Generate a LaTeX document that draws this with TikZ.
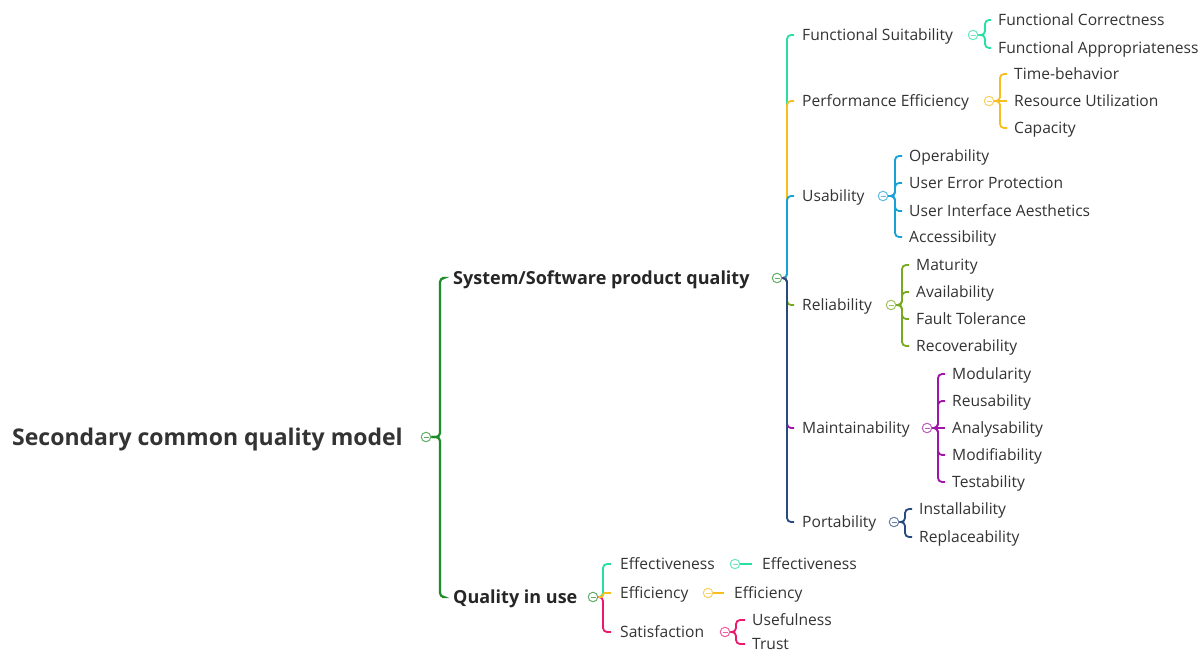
\documentclass[tikz,border=0pt]{standalone}
\usepackage{fontspec}
\setmainfont{Open Sans}
\usetikzlibrary{positioning,calc}

\definecolor{cRoot}{RGB}{30,140,40}
\definecolor{cTeal}{RGB}{40,225,160}
\definecolor{cGold}{RGB}{248,190,30}
\definecolor{cSky}{RGB}{25,160,215}
\definecolor{cOlive}{RGB}{120,170,30}
\definecolor{cPlum}{RGB}{160,20,170}
\definecolor{cNavy}{RGB}{40,75,125}
\definecolor{cRose}{RGB}{235,25,110}
\definecolor{cTxt}{RGB}{51,51,51}

\begin{document}
\begin{tikzpicture}[
    x=1pt, y=-1pt,
    % Node styles
    rootnode/.style={anchor=west, inner sep=0pt, text height=16pt, text depth=0pt, font=\fontsize{23}{28}\selectfont\bfseries, text=cTxt},
    topic/.style={anchor=west, inner sep=0pt, text height=12.5pt, text depth=0pt, font=\fontsize{18}{22}\selectfont\bfseries, text=black!85},
    item/.style={anchor=west, inner sep=0pt, text height=10.5pt, text depth=0pt, font=\fontsize{15.6}{18}\selectfont, text=cTxt},
    fold/.style={circle, draw=#1!70, fill=white, line width=1pt, minimum size=9.5pt, inner sep=0pt,
        path picture={\draw[#1!70, line width=0.8pt] ([xshift=-2.5pt]path picture bounding box.center) -- ([xshift=2.5pt]path picture bounding box.center);}},
    branch/.style={draw=#1, line width=1.8pt, rounded corners=4pt},
]

\fill[white] (0,0) rectangle (1204,653);
\useasboundingbox (0,0) rectangle (1204,653);

% ============================================================
% Root
% ============================================================
\node[rootnode] (root) at (12,437) {Secondary common quality model};
\node[fold=cRoot] (fRoot) at (426,437) {};
\coordinate (jRoot) at (440,437);

% ============================================================
% Main topics
% ============================================================
\node[topic] (sys) at (453,278) {System/Software product quality};
\node[fold=cRoot] (fSys) at (777,278) {};
\coordinate (jSys) at (787,278);

\node[topic] (use) at (453,597) {Quality in use};
\node[fold=cRoot] (fUse) at (593,597) {};
\coordinate (jUse) at (603,597);

\draw[branch=cRoot, line width=2.2pt, shorten >=11pt] (fRoot.east) -- (jRoot) |- (sys.west);
\draw[branch=cRoot, line width=2.2pt, shorten >=11pt] (fRoot.east) -- (jRoot) |- (use.west);

% ============================================================
% Product quality characteristics
% ============================================================
\node[item] (func) at (802,35) {Functional Suitability};
\node[fold=cTeal] (fFunc) at (973,35) {};
\coordinate (jFunc) at (985,35);

\node[item] (perf) at (802,101) {Performance Efficiency};
\node[fold=cGold] (fPerf) at (989,101) {};
\coordinate (jPerf) at (1000,101);

\node[item] (usab) at (802,196) {Usability};
\node[fold=cSky] (fUsab) at (883,196) {};
\coordinate (jUsab) at (895,196);

\node[item] (reli) at (802,305) {Reliability};
\node[fold=cOlive] (fReli) at (891,305) {};
\coordinate (jReli) at (902,305);

\node[item] (maint) at (802,428) {Maintainability};
\node[fold=cPlum] (fMaint) at (927,428) {};
\coordinate (jMaint) at (938,428);

\node[item] (port) at (802,522) {Portability};
\node[fold=cNavy] (fPort) at (894,522) {};
\coordinate (jPort) at (905,522);

\draw[branch=cTeal, shorten >=8pt] (fSys.east) -- (jSys) |- (func.west);
\draw[branch=cGold, shorten >=8pt] (fSys.east) -- (jSys) |- (perf.west);
\draw[branch=cSky, shorten >=8pt] (fSys.east) -- (jSys) |- (usab.west);
\draw[branch=cOlive, shorten >=8pt] (fSys.east) -- (jSys) |- (reli.west);
\draw[branch=cPlum, shorten >=8pt] (fSys.east) -- (jSys) |- (maint.west);
\draw[branch=cNavy, shorten >=8pt] (fSys.east) -- (jSys) |- (port.west);

% ============================================================
% Sub-characteristics
% ============================================================
\node[item] (fcor) at (998,20) {Functional Correctness};
\node[item] (fapp) at (998,48) {Functional Appropriateness};
\draw[branch=cTeal, shorten >=7pt] (fFunc.east) -- (jFunc) |- (fcor.west);
\draw[branch=cTeal, shorten >=7pt] (fFunc.east) -- (jFunc) |- (fapp.west);

\node[item] (time) at (1014,74) {Time-behavior};
\node[item] (reso) at (1014,101) {Resource Utilization};
\node[item] (capa) at (1014,128) {Capacity};
\draw[branch=cGold, shorten >=7pt] (fPerf.east) -- (jPerf) |- (time.west);
\draw[branch=cGold, shorten >=7pt] (fPerf.east) -- (reso.west);
\draw[branch=cGold, shorten >=7pt] (fPerf.east) -- (jPerf) |- (capa.west);

\node[item] (oper) at (909,156) {Operability};
\node[item] (uerr) at (909,183) {User Error Protection};
\node[item] (uiae) at (909,211) {User Interface Aesthetics};
\node[item] (acce) at (909,237) {Accessibility};
\draw[branch=cSky, shorten >=7pt] (fUsab.east) -- (jUsab) |- (oper.west);
\draw[branch=cSky, shorten >=7pt] (fUsab.east) -- (jUsab) |- (uerr.west);
\draw[branch=cSky, shorten >=7pt] (fUsab.east) -- (jUsab) |- (uiae.west);
\draw[branch=cSky, shorten >=7pt] (fUsab.east) -- (jUsab) |- (acce.west);

\node[item] (matu) at (916,265) {Maturity};
\node[item] (avai) at (916,292) {Availability};
\node[item] (faul) at (916,319) {Fault Tolerance};
\node[item] (reco) at (916,346) {Recoverability};
\draw[branch=cOlive, shorten >=7pt] (fReli.east) -- (jReli) |- (matu.west);
\draw[branch=cOlive, shorten >=7pt] (fReli.east) -- (jReli) |- (avai.west);
\draw[branch=cOlive, shorten >=7pt] (fReli.east) -- (jReli) |- (faul.west);
\draw[branch=cOlive, shorten >=7pt] (fReli.east) -- (jReli) |- (reco.west);

\node[item] (modu) at (952,374) {Modularity};
\node[item] (reus) at (952,401) {Reusability};
\node[item] (anal) at (952,428) {Analysability};
\node[item] (modi) at (952,455) {Modifiability};
\node[item] (test) at (952,482) {Testability};
\draw[branch=cPlum, shorten >=7pt] (fMaint.east) -- (jMaint) |- (modu.west);
\draw[branch=cPlum, shorten >=7pt] (fMaint.east) -- (jMaint) |- (reus.west);
\draw[branch=cPlum, shorten >=7pt] (fMaint.east) -- (anal.west);
\draw[branch=cPlum, shorten >=7pt] (fMaint.east) -- (jMaint) |- (modi.west);
\draw[branch=cPlum, shorten >=7pt] (fMaint.east) -- (jMaint) |- (test.west);

\node[item] (inst) at (919,509) {Installability};
\node[item] (repl) at (919,537) {Replaceability};
\draw[branch=cNavy, shorten >=7pt] (fPort.east) -- (jPort) |- (inst.west);
\draw[branch=cNavy, shorten >=7pt] (fPort.east) -- (jPort) |- (repl.west);

% ============================================================
% Quality in use characteristics
% ============================================================
\node[item] (effe) at (620,564) {Effectiveness};
\node[fold=cTeal] (fEffe) at (735,564) {};
\node[item] (effeS) at (762,564) {Effectiveness};

\node[item] (effi) at (620,593) {Efficiency};
\node[fold=cGold] (fEffi) at (708,593) {};
\node[item] (effiS) at (734,593) {Efficiency};

\node[item] (sati) at (620,632) {Satisfaction};
\node[fold=cRose] (fSati) at (725,632) {};
\coordinate (jSati) at (736,632);
\node[item] (usef) at (752,620) {Usefulness};
\node[item] (trus) at (752,644) {Trust};

\draw[branch=cTeal, shorten >=9pt] (fUse.east) -- (jUse) |- (effe.west);
\draw[branch=cRose, shorten >=9pt] (fUse.east) -- (jUse) |- (sati.west);
\draw[branch=cGold, rounded corners=2pt, shorten >=9pt] (fUse.east) -- (jUse) |- (effi.west);

\draw[branch=cTeal, shorten >=10pt] (fEffe.east) -- (effeS.west);
\draw[branch=cGold, shorten >=10pt] (fEffi.east) -- (effiS.west);
\draw[branch=cRose, shorten >=7pt] (fSati.east) -- (jSati) |- (usef.west);
\draw[branch=cRose, shorten >=7pt] (fSati.east) -- (jSati) |- (trus.west);

\end{tikzpicture}
\end{document}
